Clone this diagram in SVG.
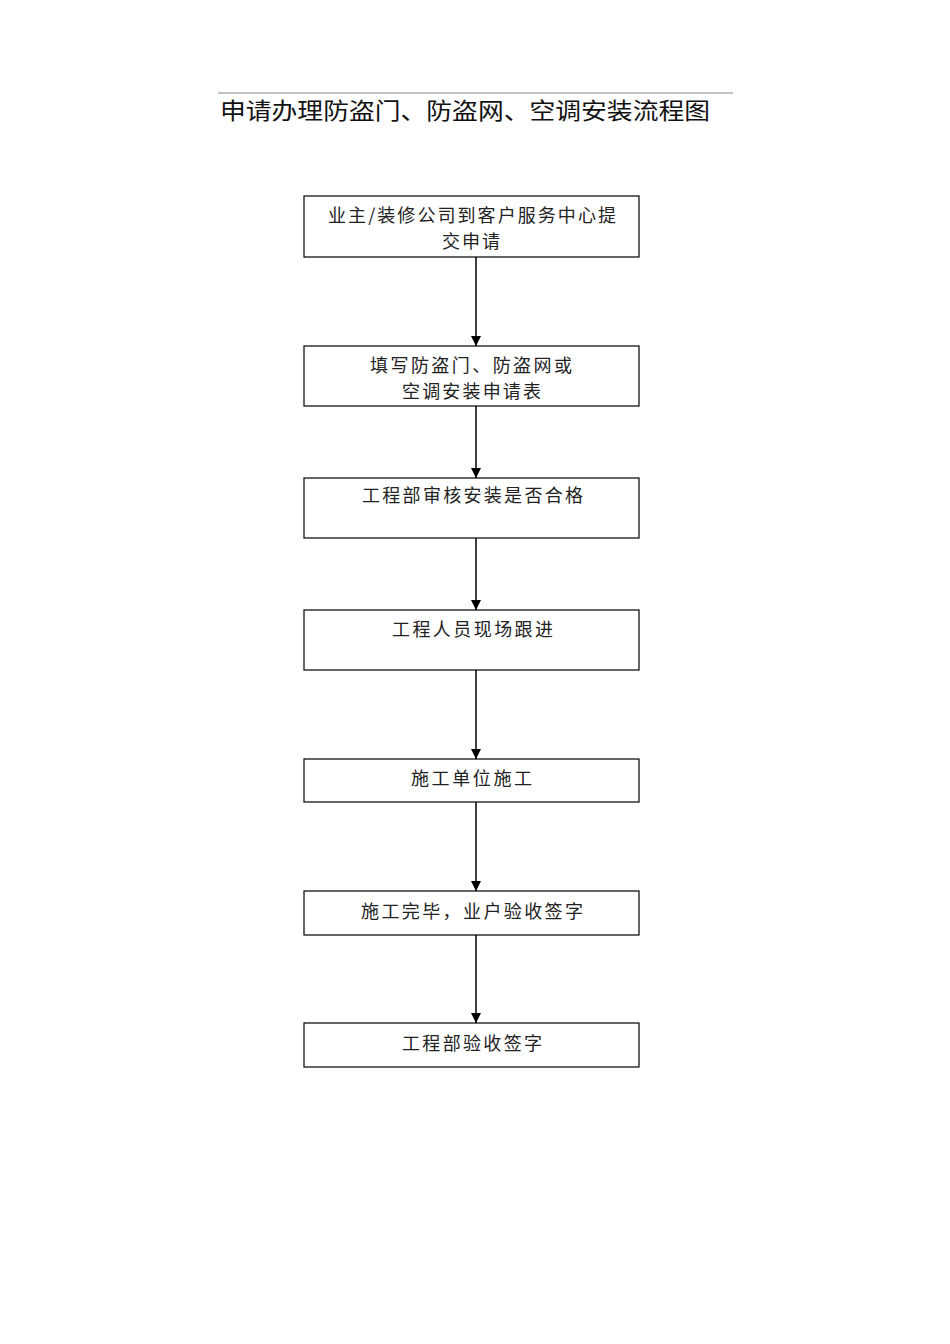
<svg xmlns="http://www.w3.org/2000/svg" width="950" height="1344" viewBox="0 0 950 1344">
<defs>
<marker id="ah" viewBox="0 0 10 10" refX="10" refY="5" markerWidth="10" markerHeight="10" markerUnits="userSpaceOnUse" orient="auto">
<path d="M0,0 L10,5 L0,10 Z" fill="#000"/>
</marker>
<style>
.box{fill:#fff;stroke:#000;stroke-width:1.2}
.t{font-family:"Noto Sans CJK SC","Noto Sans",sans-serif;font-size:18px;fill:#222}
.ttl{font-family:"Noto Sans CJK SC","Noto Sans",sans-serif;font-size:23px;fill:#111}
.c{stroke:#000;stroke-width:1.5;fill:none;marker-end:url(#ah)}
</style>
</defs>
<rect width="950" height="1344" fill="#fff"/>
<g id="title">
<line x1="218" y1="93" x2="733" y2="93" stroke="#888" stroke-width="1"/>
<text class="ttl" x="220" y="119" textLength="490" lengthAdjust="spacingAndGlyphs">申请办理防盗门、防盗网、空调安装流程图</text>
</g>
<g id="connectors">
<line class="c" x1="476" y1="257" x2="476" y2="346"/>
<line class="c" x1="476" y1="406" x2="476" y2="478"/>
<line class="c" x1="476" y1="538" x2="476" y2="610"/>
<line class="c" x1="476" y1="670" x2="476" y2="759"/>
<line class="c" x1="476" y1="802" x2="476" y2="891"/>
<line class="c" x1="476" y1="935" x2="476" y2="1023"/>
</g>
<g id="n1">
<rect class="box" x="304" y="196" width="335" height="61"/>
<text class="t" x="328" y="222" textLength="288" lengthAdjust="spacing">业主/装修公司到客户服务中心提</text>
<text class="t" x="442" y="248" textLength="58" lengthAdjust="spacing">交申请</text>
</g>
<g id="n2">
<rect class="box" x="304" y="346" width="335" height="60"/>
<text class="t" x="370" y="372" textLength="202" lengthAdjust="spacing">填写防盗门、防盗网或</text>
<text class="t" x="402" y="398" textLength="139" lengthAdjust="spacing">空调安装申请表</text>
</g>
<g id="n3">
<rect class="box" x="304" y="478" width="335" height="60"/>
<text class="t" x="362" y="502" textLength="221" lengthAdjust="spacing">工程部审核安装是否合格</text>
</g>
<g id="n4">
<rect class="box" x="304" y="610" width="335" height="60"/>
<text class="t" x="392" y="636" textLength="161" lengthAdjust="spacing">工程人员现场跟进</text>
</g>
<g id="n5">
<rect class="box" x="304" y="759" width="335" height="43"/>
<text class="t" x="411" y="785" textLength="121" lengthAdjust="spacing">施工单位施工</text>
</g>
<g id="n6">
<rect class="box" x="304" y="891" width="335" height="44"/>
<text class="t" x="361" y="918" textLength="222" lengthAdjust="spacing">施工完毕，业户验收签字</text>
</g>
<g id="n7">
<rect class="box" x="304" y="1023" width="335" height="44"/>
<text class="t" x="402" y="1050" textLength="140" lengthAdjust="spacing">工程部验收签字</text>
</g>
</svg>
